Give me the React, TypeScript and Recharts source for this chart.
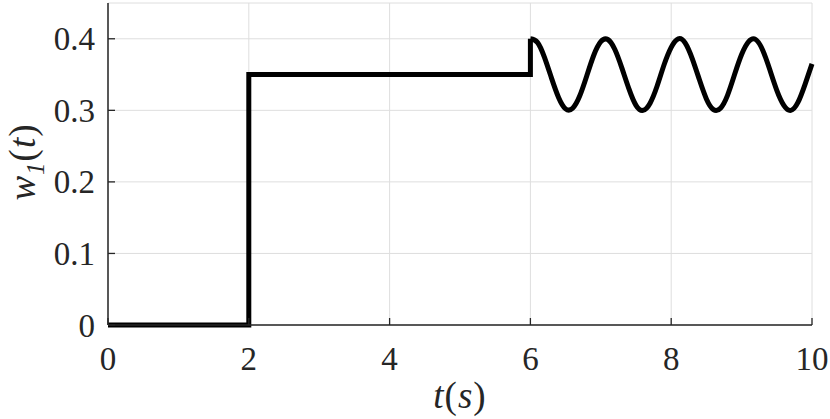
import { LineChart, Line, XAxis, YAxis, CartesianGrid } from 'recharts'

// step part of w1(t): off until t = 2, then held at 0.35 until t = 6
const stepT = [0, 2, 2, 6, 6]
const stepW = [0, 0, 0.35, 0.35, 0.4]

// oscillating part from t = 6 to 10, read every 0.1 s
const waveT = [
  6.0, 6.1, 6.2, 6.3, 6.4, 6.5, 6.6, 6.7, 6.8, 6.9,
  7.0, 7.1, 7.2, 7.3, 7.4, 7.5, 7.6, 7.7, 7.8, 7.9,
  8.0, 8.1, 8.2, 8.3, 8.4, 8.5, 8.6, 8.7, 8.8, 8.9,
  9.0, 9.1, 9.2, 9.3, 9.4, 9.5, 9.6, 9.7, 9.8, 9.9,
  10.0,
]
const waveW = [
  0.4, 0.395, 0.374, 0.345, 0.318, 0.302, 0.303, 0.32, 0.348, 0.377,
  0.396, 0.399, 0.385, 0.359, 0.33, 0.307, 0.3, 0.31, 0.334, 0.364,
  0.388, 0.4, 0.394, 0.372, 0.343, 0.316, 0.301, 0.303, 0.321, 0.35,
  0.378, 0.396, 0.399, 0.384, 0.357, 0.328, 0.307, 0.3, 0.311, 0.336,
  0.365,
]

const xTicks = [0, 2, 4, 6, 8, 10]
const yTicks = [0, 0.1, 0.2, 0.3, 0.4]

const stepData = stepT.map((t, i) => ({ t, w: stepW[i] }))
const waveData = waveT.map((t, i) => ({ t, w: waveW[i] }))

const FRAME = '#262626'
const FONT = "'Liberation Serif', 'DejaVu Serif', serif"
const TICK_LEN = 7

const LeftTick = ({ x, y, payload }: any) => (
  <g>
    <line x1={x} x2={x + TICK_LEN} y1={y} y2={y} stroke={FRAME} strokeWidth={1.3} />
    <text x={x - 13} y={y} dy="0.35em" textAnchor="end" style={{ fontFamily: FONT }} fontSize={33} fill="#262626">
      {String(payload.value)}
    </text>
  </g>
)

const BottomTick = ({ x, y, payload }: any) => (
  <g>
    <line x1={x} x2={x} y1={y} y2={y - TICK_LEN} stroke={FRAME} strokeWidth={1.3} />
    <text x={x} y={y + 45} textAnchor="middle" style={{ fontFamily: FONT }} fontSize={33} fill="#262626">
      {String(payload.value)}
    </text>
  </g>
)

const TopTick = ({ x, y }: any) => (
  <line x1={x} x2={x} y1={y} y2={y + TICK_LEN} stroke={FRAME} strokeWidth={1.3} />
)

const RightTick = ({ x, y }: any) => (
  <line x1={x} x2={x - TICK_LEN} y1={y} y2={y} stroke={FRAME} strokeWidth={1.3} />
)

export default function App() {
  return (
    <div style={{ position: 'absolute', left: 0, top: 0, width: 830, height: 419, background: '#fff' }}>
      <LineChart width={830} height={419} margin={{ top: 3, right: 18, bottom: 0, left: 0 }}>
        <CartesianGrid stroke="#dedede" strokeWidth={1} />
        <XAxis
          dataKey="t"
          type="number"
          domain={[0, 10]}
          ticks={xTicks}
          interval={0}
          height={94}
          tickSize={0}
          tickMargin={0}
          tickLine={false}
          tick={<BottomTick />}
          axisLine={{ stroke: FRAME, strokeWidth: 1.5 }}
          allowDuplicatedCategory={false}
        />
        <XAxis
          xAxisId="top"
          orientation="top"
          type="number"
          domain={[0, 10]}
          ticks={xTicks}
          interval={0}
          height={0}
          tickSize={0}
          tickMargin={0}
          tickLine={false}
          tick={<TopTick />}
          axisLine={{ stroke: FRAME, strokeWidth: 1.5 }}
        />
        <YAxis
          type="number"
          domain={[0, 0.45]}
          ticks={yTicks}
          interval={0}
          width={108}
          tickSize={0}
          tickMargin={0}
          tickLine={false}
          tick={<LeftTick />}
          axisLine={{ stroke: FRAME, strokeWidth: 1.5 }}
        />
        <YAxis
          yAxisId="right"
          orientation="right"
          type="number"
          domain={[0, 0.45]}
          ticks={yTicks}
          interval={0}
          width={0}
          tickSize={0}
          tickMargin={0}
          tickLine={false}
          tick={<RightTick />}
          axisLine={{ stroke: FRAME, strokeWidth: 1.5 }}
        />
        <Line
          data={stepData}
          dataKey="w"
          type="linear"
          stroke="#000"
          strokeWidth={5}
          dot={false}
          isAnimationActive={false}
        />
        <Line
          data={waveData}
          dataKey="w"
          type="natural"
          stroke="#000"
          strokeWidth={5}
          dot={false}
          isAnimationActive={false}
        />
      </LineChart>
      <div
        style={{
          position: 'absolute',
          left: 26,
          top: 162,
          transform: 'translate(-50%, -50%) rotate(-90deg)',
          fontFamily: FONT,
          fontSize: 37,
          color: '#262626',
          whiteSpace: 'nowrap',
          lineHeight: 1.2,
          letterSpacing: 1,
        }}
      >
        <i>w</i>
        <sub style={{ fontSize: 25 }}>
          <i>1</i>
        </sub>
        (<i>t</i>)
      </div>
      <div
        style={{
          position: 'absolute',
          left: 460,
          top: 396,
          transform: 'translate(-50%, -50%)',
          fontFamily: FONT,
          fontSize: 37,
          color: '#262626',
          whiteSpace: 'nowrap',
          lineHeight: 1.2,
          letterSpacing: 1,
        }}
      >
        <i>t</i>(<i>s</i>)
      </div>
    </div>
  )
}
